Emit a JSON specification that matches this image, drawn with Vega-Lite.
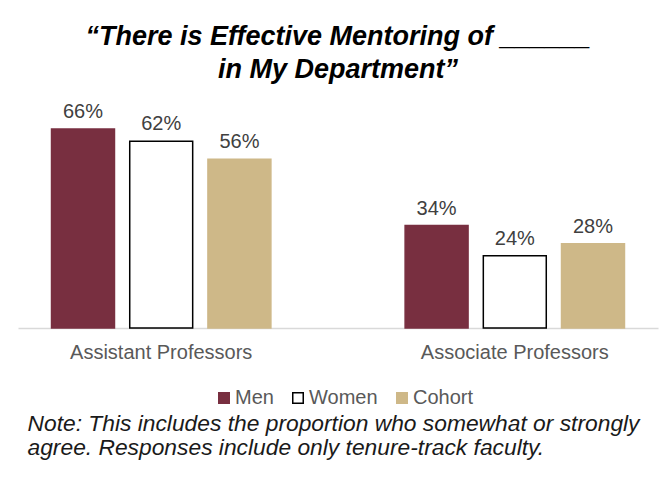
{
  "$schema": "https://vega.github.io/schema/vega-lite/v6.json",
  "width": 640,
  "height": 226,
  "autosize": {"type": "none"},
  "padding": {"left": 18, "top": 102, "right": 9, "bottom": 159},
  "background": "white",
  "config": {
    "view": {"stroke": null},
    "font": "Liberation Sans"
  },
  "title": {
    "text": ["“There is Effective Mentoring of ______", "in My Department”"],
    "font": "Liberation Sans",
    "fontSize": 27,
    "fontWeight": "bold",
    "fontStyle": "italic",
    "color": "#000000",
    "lineHeight": 33,
    "anchor": "middle",
    "offset": 18
  },
  "data": {
    "values": [
      {"Rank": "Assistant Professors", "Group": "Men", "Value": 0.66},
      {"Rank": "Assistant Professors", "Group": "Women", "Value": 0.62},
      {"Rank": "Assistant Professors", "Group": "Cohort", "Value": 0.56},
      {"Rank": "Associate Professors", "Group": "Men", "Value": 0.34},
      {"Rank": "Associate Professors", "Group": "Women", "Value": 0.24},
      {"Rank": "Associate Professors", "Group": "Cohort", "Value": 0.28}
    ]
  },
  "encoding": {
    "x": {
      "field": "Rank",
      "type": "nominal",
      "sort": ["Assistant Professors", "Associate Professors"],
      "scale": {"paddingInner": 0.3, "paddingOuter": 0.055},
      "axis": {
        "labelAngle": 0,
        "labelFontSize": 20,
        "labelLimit": 0,
        "labelColor": "#595959",
        "labelPadding": 14,
        "ticks": false,
        "domainColor": "#d9d9d9",
        "domainWidth": 1.5,
        "title": ["Note: This includes the proportion who somewhat or strongly", "agree. Responses include only tenure-track faculty."],
        "titleFontSize": 22.8,
        "titleFontStyle": "italic",
        "titleFontWeight": "normal",
        "titleColor": "#1a1a1a",
        "titleAnchor": "start",
        "titleAlign": "left",
        "titleBaseline": "alphabetic",
        "titleLineHeight": 24,
        "titleX": 9,
        "titleY": 102
      }
    },
    "xOffset": {
      "field": "Group",
      "type": "nominal",
      "sort": ["Men", "Women", "Cohort"],
      "scale": {"paddingInner": 0.195, "paddingOuter": 0.18}
    },
    "y": {
      "field": "Value",
      "type": "quantitative",
      "scale": {"domain": [0, 0.75]},
      "axis": null
    }
  },
  "layer": [
    {
      "mark": {"type": "bar", "strokeWidth": 1.5},
      "encoding": {
        "fill": {
          "field": "Group",
          "type": "nominal",
          "scale": {"domain": ["Men", "Women", "Cohort"], "range": ["#782F40", "#FFFFFF", "#CEB888"]},
          "legend": {
            "orient": "none",
            "legendX": 196,
            "legendY": 286,
            "direction": "horizontal",
            "title": null,
            "symbolType": "square",
            "symbolSize": 110,
            "symbolStrokeWidth": 1.5,
            "labelFontSize": 20,
            "labelColor": "#595959",
            "labelOffset": 1,
            "columnPadding": 14
          }
        },
        "stroke": {
          "field": "Group",
          "type": "nominal",
          "scale": {"domain": ["Men", "Women", "Cohort"], "range": ["#782F40", "#000000", "#CEB888"]}
        }
      }
    },
    {
      "mark": {"type": "text", "dy": -11, "baseline": "alphabetic", "fontSize": 20, "color": "#404040", "font": "Liberation Sans"},
      "encoding": {
        "text": {"field": "Value", "type": "quantitative", "format": ".0%"}
      }
    }
  ]
}
